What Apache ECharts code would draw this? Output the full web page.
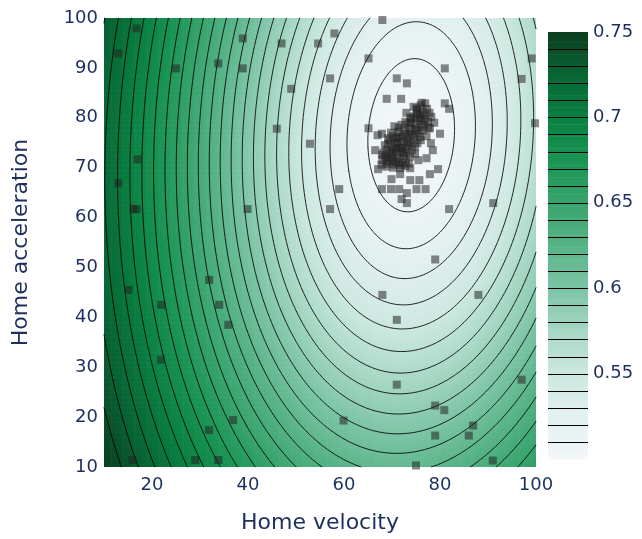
<!DOCTYPE html>
<html><head><meta charset="utf-8">
<script src="https://cdn.jsdelivr.net/npm/echarts@6/dist/echarts.min.js"></script>
<style>html,body{margin:0;padding:0;background:#fff}#c{width:642px;height:539px}</style>
</head><body><div id="c"></div>
<script>
// ---- tick labels ----
const xTicks = [20, 40, 60, 80, 100];
const yTicks = [10, 20, 30, 40, 50, 60, 70, 80, 90, 100];
const colorbarTicks = [0.55, 0.6, 0.65, 0.7, 0.75];
const contourLevels = [0.51,0.52,0.53,0.54,0.55,0.56,0.57,0.58,0.59,0.60,0.61,0.62,0.63,0.64,0.65,0.66,0.67,0.68,0.69,0.70,0.71,0.72,0.73,0.74];
const colorRange = [0.5, 0.75];
const colorStops = ['#f3f7f9','#e3f0f0','#cce8e0','#a6d7c4','#7cc4a6','#57b387','#38a46c','#1a9454','#0a8041','#086634','#0b3e20'];

const surfaceCenter = [74, 76.5];
const surfaceMin = 0.5;
const surfaceAmp = 0.356;
const surfaceScale = 65;
const surfaceShape = 1.8;
const surfaceStretchY = 1.7;
const surfaceTilt = -0.08;

// ---- observed points ----
const homeVelocity = [
  16.8,13.0,25.0,33.8,38.9,38.9,47.0,54.6,49.0,46.0,52.9,17.0,13.0,16.1,16.8,39.9,
  15.1,21.9,31.9,34.0,35.9,21.9,36.9,31.9,15.9,29.0,33.8,
  68.0,58.0,65.1,57.1,81.0,97.0,99.1,99.8,59.0,57.1,91.1,81.9,
  71.0,73.1,68.9,71.9,76.9,75.1,81.0,81.9,65.1,67.9,80.0,77.9,78.1,77.2,79.6,77.9,73.8,71.7,69.9,73.8,75.7,77.0,67.9,69.8,71.5,75.1,73.1,72.0,73.1,67.1,76.2,
  74.5,76.0,77.3,75.2,76.8,78.2,74.0,75.8,77.5,73.0,72.8,
  70.5,72.0,73.5,75.0,76.5,69.8,71.3,72.8,74.3,75.8,77.2,69.5,70.9,72.4,73.9,75.3,
  68.5,70.0,71.4,72.9,74.2,68.2,69.6,71.0,72.5,73.8,68.0,69.4,70.8,72.2,73.5,68.7,70.2,71.7,72.8,
  75.2,76.4,77.8,74.6,76.1,73.6,75.0,76.6,71.4,72.6,74.0,75.5,70.2,71.6,73.1,74.6,69.2,70.6,72.0,73.4,74.8,
  68.9,70.3,71.7,73.1,68.6,70.0,71.4,72.9,69.0,70.4,71.9,67.9,67.8,74.8,76.0,77.6,78.8,
  71.0,72.3,73.7,74.9,76.0,72.0,73.3,70.8,72.3,69.9,74.0,75.4,76.9,73.8,71.1,70.1,71.3,68.9,69.2,75.9,
  66.5,75.5,78.5,67.0,
  79.0,68.0,88.0,71.0,71.0,97.0,79.0,80.9,59.9,86.9,79.0,86.0,91.0,75.0,80.9
];
const homeAcceleration = [
  97.9,92.9,89.9,90.9,95.9,89.9,94.9,94.9,85.8,77.8,74.8,71.7,66.9,61.7,61.7,61.7,
  45.5,42.5,47.5,42.5,38.5,31.5,19.4,17.4,11.4,11.4,11.4,
  99.6,96.9,91.9,87.9,89.9,87.8,91.9,78.9,65.7,61.7,62.9,61.7,
  87.9,86.9,83.8,83.8,82.9,81.9,82.9,81.8,77.9,76.8,76.8,77.9,74.9,71.9,69.7,68.7,69.9,68.7,67.7,67.5,67.5,65.7,65.7,65.7,65.7,65.7,64.9,63.7,62.9,69.7,83.0,
  82.2,82.5,81.8,80.8,80.5,80.2,79.8,79.4,79.2,81.0,79.2,
  78.3,78.6,78.0,77.8,77.5,77.0,77.2,76.8,76.5,76.2,76.3,75.5,75.8,75.3,75.1,74.9,
  74.5,74.2,74.0,73.8,73.6,73.0,72.8,72.6,72.4,72.2,71.5,71.3,71.2,71.0,70.8,70.2,70.0,69.9,70.3,
  81.6,81.2,81.0,80.3,79.9,78.9,78.7,78.6,78.0,77.6,77.3,76.9,76.4,76.2,75.9,75.7,74.8,74.9,74.6,74.4,74.2,
  73.6,73.4,73.3,73.1,72.2,72.0,71.9,71.6,70.8,70.6,70.5,72.6,70.6,72.8,75.5,78.0,79.0,
  76.0,76.3,76.6,77.4,78.1,74.0,74.9,73.8,73.0,73.1,79.0,79.9,79.6,80.1,75.0,71.6,70.9,71.9,75.9,80.9,
  73.5,71.5,73.5,76.5,
  51.6,44.5,44.5,39.5,26.5,27.5,22.3,21.4,19.3,18.3,16.3,16.3,11.3,10.3,9.6
];

const xRange = [10, 100];
const yRange = [10, 100];
const cellStep = 0.5;

function surface(x, y) {
  const u = x - surfaceCenter[0];
  const v = (y - surfaceCenter[1]) / surfaceStretchY;
  const d = Math.sqrt(u * u + 2 * surfaceTilt * u * v + v * v);
  return surfaceMin + surfaceAmp * (1 - Math.exp(-Math.pow(d / surfaceScale, surfaceShape)));
}

const nx = Math.round((xRange[1] - xRange[0]) / cellStep) + 1;
const ny = Math.round((yRange[1] - yRange[0]) / cellStep) + 1;
const gx = [], gy = [];
for (let i = 0; i < nx; i++) gx.push(xRange[0] + i * cellStep);
for (let j = 0; j < ny; j++) gy.push(yRange[0] + j * cellStep);
const V = gx.map(x => gy.map(y => surface(x, y)));

const heatCells = [];
for (let i = 0; i < nx - 1; i++) {
  for (let j = 0; j < ny - 1; j++) {
    const cx = gx[i] + cellStep / 2, cy = gy[j] + cellStep / 2;
    heatCells.push([cx, cy, surface(cx, cy)]);
  }
}

function contourPaths(L) {
  const adj = new Map(), pts = new Map();
  function addPt(id, xa, ya, va, xb, yb, vb) {
    if (!pts.has(id)) {
      const t = (L - va) / (vb - va);
      pts.set(id, [xa + t * (xb - xa), ya + t * (yb - ya)]);
    }
    return id;
  }
  function link(a, b) {
    if (!adj.has(a)) adj.set(a, []);
    if (!adj.has(b)) adj.set(b, []);
    adj.get(a).push(b); adj.get(b).push(a);
  }
  for (let i = 0; i < nx - 1; i++) {
    for (let j = 0; j < ny - 1; j++) {
      const va = V[i][j], vb = V[i + 1][j], vc = V[i + 1][j + 1], vd = V[i][j + 1];
      const xs = gx[i], xe = gx[i + 1], ys = gy[j], ye = gy[j + 1];
      const e = {};
      if ((va >= L) !== (vb >= L)) e.b = addPt('h' + i + ',' + j, xs, ys, va, xe, ys, vb);
      if ((vb >= L) !== (vc >= L)) e.r = addPt('v' + (i + 1) + ',' + j, xe, ys, vb, xe, ye, vc);
      if ((vd >= L) !== (vc >= L)) e.t = addPt('h' + i + ',' + (j + 1), xs, ye, vd, xe, ye, vc);
      if ((va >= L) !== (vd >= L)) e.l = addPt('v' + i + ',' + j, xs, ys, va, xs, ye, vd);
      const keys = Object.keys(e);
      if (keys.length === 2) link(e[keys[0]], e[keys[1]]);
      else if (keys.length === 4) {
        const vm = (va + vb + vc + vd) / 4;
        if ((vm >= L) === (va >= L)) { link(e.b, e.r); link(e.t, e.l); }
        else { link(e.b, e.l); link(e.r, e.t); }
      }
    }
  }
  const visited = new Set(), paths = [];
  function walk(start) {
    const path = [pts.get(start)];
    visited.add(start);
    let cur = start;
    while (true) {
      const nb = adj.get(cur).find(k => !visited.has(k));
      if (nb === undefined) break;
      visited.add(nb); path.push(pts.get(nb)); cur = nb;
    }
    return path;
  }
  for (const [id, nbs] of adj) if (nbs.length === 1 && !visited.has(id)) paths.push(walk(id));
  for (const id of adj.keys()) if (!visited.has(id)) { const p = walk(id); p.push(p[0]); paths.push(p); }
  return paths;
}
const contourData = [];
contourLevels.forEach(L => contourPaths(L).forEach(p => contourData.push({ coords: p })));

const barStrips = [];
const barStep = 0.001;
for (let v = colorRange[0]; v < colorRange[1] - 1e-9; v += barStep) barStrips.push([0, v, v + barStep / 2]);

const textColor = '#1e2f5e';
const fontFamily = 'DejaVu Sans, Verdana, sans-serif';

const chart = echarts.init(document.getElementById('c'), null, { renderer: 'canvas' });
chart.setOption({
  animation: false,
  backgroundColor: '#fff',
  textStyle: { fontFamily },
  grid: [
    { left: 104, top: 18, width: 432, height: 449 },
    { left: 548, top: 32, width: 40, height: 427 }
  ],
  xAxis: [
    {
      type: 'value', gridIndex: 0, min: xRange[0], max: xRange[1], interval: 10,
      name: 'Home velocity', nameLocation: 'middle', nameGap: 45,
      nameTextStyle: { color: textColor, fontSize: 22, fontFamily },
      axisLine: { show: false }, axisTick: { show: false }, splitLine: { show: false },
      axisLabel: { color: textColor, fontSize: 18, fontFamily, margin: 9,
        formatter: v => xTicks.includes(v) ? String(v) : '' }
    },
    { type: 'value', gridIndex: 1, min: 0, max: 1, show: false }
  ],
  yAxis: [
    {
      type: 'value', gridIndex: 0, min: yRange[0], max: yRange[1], interval: 10,
      name: 'Home acceleration', nameLocation: 'middle', nameGap: 72, nameRotate: 90,
      nameTextStyle: { color: textColor, fontSize: 22, fontFamily },
      axisLine: { show: false }, axisTick: { show: false }, splitLine: { show: false },
      axisLabel: { color: textColor, fontSize: 18, fontFamily, margin: 6,
        formatter: v => yTicks.includes(v) ? String(v) : '' }
    },
    {
      type: 'value', gridIndex: 1, min: colorRange[0], max: colorRange[1], interval: 0.05, position: 'right',
      axisLine: { show: false }, axisTick: { show: false }, splitLine: { show: false },
      axisLabel: { color: textColor, fontSize: 18, fontFamily, margin: 5,
        formatter: v => colorbarTicks.some(t => Math.abs(t - v) < 1e-6) ? String(+v.toFixed(2)) : '' }
    }
  ],
  visualMap: [{
    type: 'continuous', show: false, min: colorRange[0], max: colorRange[1],
    dimension: 2, seriesIndex: [0, 3], inRange: { color: colorStops }
  }],
  series: [
    {
      type: 'custom', xAxisIndex: 0, yAxisIndex: 0, data: heatCells, clip: true, silent: true, z: 1,
      progressive: 0,
      renderItem: (params, api) => {
        const x = api.value(0), y = api.value(1);
        const p1 = api.coord([x - cellStep / 2, y + cellStep / 2]);
        const p2 = api.coord([x + cellStep / 2, y - cellStep / 2]);
        return { type: 'rect', shape: { x: p1[0], y: p1[1], width: p2[0] - p1[0] + 0.6, height: p2[1] - p1[1] + 0.6 },
          style: { fill: api.visual('color') } };
      }
    },
    {
      type: 'lines', coordinateSystem: 'cartesian2d', xAxisIndex: 0, yAxisIndex: 0, polyline: true,
      data: contourData, silent: true, z: 3,
      lineStyle: { color: '#000', width: 0.9, opacity: 0.95, cap: 'round', join: 'round' }
    },
    {
      type: 'scatter', xAxisIndex: 0, yAxisIndex: 0, symbol: 'rect', symbolSize: 8, z: 4, silent: true,
      data: homeVelocity.map((v, i) => [v, homeAcceleration[i]]),
      itemStyle: { color: 'rgba(35,35,35,0.68)' }
    },
    {
      type: 'custom', xAxisIndex: 1, yAxisIndex: 1, data: barStrips, silent: true, z: 1, progressive: 0,
      renderItem: (params, api) => {
        const v = api.value(1);
        const p1 = api.coord([0, v + barStep]);
        const p2 = api.coord([1, v]);
        return { type: 'rect', shape: { x: p1[0], y: p1[1], width: p2[0] - p1[0], height: p2[1] - p1[1] + 0.6 },
          style: { fill: api.visual('color') } };
      }
    },
    {
      type: 'custom', xAxisIndex: 1, yAxisIndex: 1, data: contourLevels.map(l => [0, l]), silent: true, z: 3,
      renderItem: (params, api) => {
        const p1 = api.coord([0, api.value(1)]);
        const p2 = api.coord([1, api.value(1)]);
        return { type: 'line', shape: { x1: p1[0], y1: Math.round(p1[1]) + 0.5, x2: p2[0], y2: Math.round(p2[1]) + 0.5 },
          style: { stroke: '#000', lineWidth: 1 } };
      }
    }
  ]
});
</script></body></html>
